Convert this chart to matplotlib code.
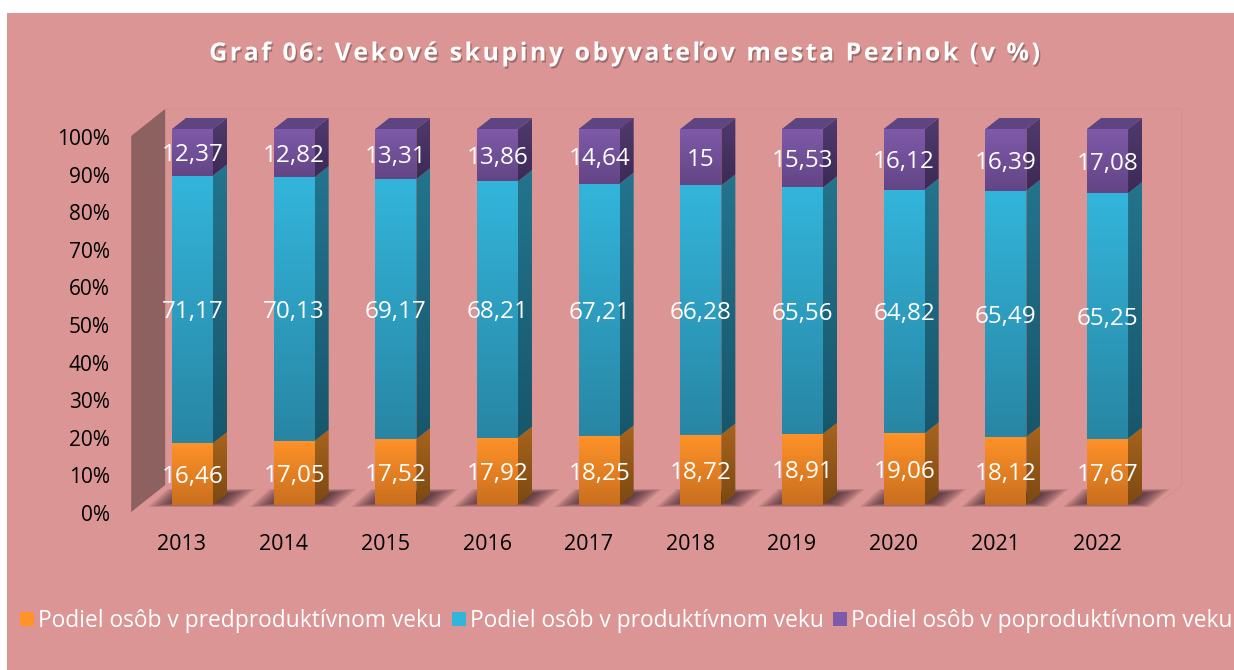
import matplotlib
matplotlib.use("Agg")
import matplotlib.pyplot as plt
import matplotlib.patheffects as pe
import numpy as np
from matplotlib.colors import to_rgb
from matplotlib.patches import Polygon, Rectangle, Patch
from matplotlib.transforms import ScaledTranslation

years = [2013, 2014, 2015, 2016, 2017, 2018, 2019, 2020, 2021, 2022]
pre_prod = [16.46, 17.05, 17.52, 17.92, 18.25, 18.72, 18.91, 19.06, 18.12, 17.67]
prod = [71.17, 70.13, 69.17, 68.21, 67.21, 66.28, 65.56, 64.82, 65.49, 65.25]
post_prod = [12.37, 12.82, 13.31, 13.86, 14.64, 15, 15.53, 16.12, 16.39, 17.08]
y_ticks = list(range(0, 101, 10))
series_names = ["Podiel osôb v predproduktívnom veku",
                "Podiel osôb v produktívnom veku",
                "Podiel osôb v poproduktívnom veku"]
title = "Graf 06: Vekové skupiny obyvateľov mesta Pezinok (v %)"

# (front top, front bottom, side top, side bottom)
orange = ("#ff9228", "#c96f1f", "#a8641c", "#7c4912")
blue = ("#33b5db", "#2886a4", "#23748e", "#17576c")
purple = ("#7f5aaa", "#634585", "#513a6e", "#3c2a56")
top_color = "#5e4480"
panel_color = "#da9594"

W, H = 1234, 670
PX_X = 101.67  # pixels per category
PX_Y = 3.76    # pixels per percent
bar_w = 41
off_x, off_y = 10.5, 7   # bars sit a little behind the tick plane
dep_x, dep_y = 14, 11    # depth of a bar
back_x, back_y = 34, 27  # depth of the whole plot box

plt.rcParams['font.family'] = ['Open Sans', 'DejaVu Sans']
fig = plt.figure(figsize=(W / 100, H / 100), dpi=100, facecolor="white")
fig.patches.append(Rectangle((7 / W, 0), 1 - 7 / W, 1 - 13 / H, transform=fig.transFigure,
                             facecolor=panel_color, edgecolor="none", zorder=-1))

left = 182 - PX_X / 2
ax = fig.add_axes([left / W, (H - 512) / H, PX_X * 10 / W, PX_Y * 100 / H])
ax.patch.set_visible(False)


def pt(x, y, ox=0, oy=0):
    # data position moved by a pixel offset
    return (x + ox / PX_X, y + oy / PX_Y)


def gradient_face(corners, c_top, c_bottom, z):
    poly = Polygon(corners, closed=True, facecolor="none", edgecolor="none", zorder=z, clip_on=False)
    ax.add_patch(poly)
    xs = [c[0] for c in corners]
    ys = [c[1] for c in corners]
    t = np.linspace(0, 1, 64)[:, None, None]
    img = (1 - t) * np.array(to_rgb(c_top))[None, None, :] + t * np.array(to_rgb(c_bottom))[None, None, :]
    im = ax.imshow(img, extent=(min(xs), max(xs), min(ys), max(ys)), origin="upper",
                   aspect="auto", zorder=z, interpolation="bilinear")
    im.set_clip_box(fig.bbox)  # bars stand higher than the axes box
    im.set_clip_path(poly)


# side wall, back frame and floor edge
ax.add_patch(Polygon([pt(-0.5, 100), pt(-0.5, 100, back_x, back_y), pt(-0.5, 0, back_x, back_y), pt(-0.5, 0)],
                     facecolor="#8c6160", edgecolor="none", zorder=1, clip_on=False))
ax.plot(*zip(pt(-0.5, 100, back_x, back_y), pt(9.5, 100, back_x, back_y), pt(9.5, 0, back_x, back_y),
             pt(9.5, 0, 15, 12)),
        color="#d48f8e", lw=0.8, zorder=1, clip_on=False)

# shadows under the bars
for i in range(len(years)):
    x0 = i + (off_x - bar_w / 2) / PX_X
    shape = np.array([[-24, -2], [-4, 16], [83, 16], [62, -2]], dtype=float)
    centre = shape.mean(axis=0)
    for k in range(12):
        shrink = 1.0 - k * 0.055
        scaled = centre + (shape - centre) * shrink
        corners = [pt(x0, 0, p[0], off_y + p[1]) for p in scaled]
        ax.add_patch(Polygon(corners, facecolor="#2e1820", edgecolor="none", alpha=0.11, zorder=1.5, clip_on=False))

# bars
z = 2
for i in range(len(years)):
    x0 = i + (off_x - bar_w / 2) / PX_X
    x1 = i + (off_x + bar_w / 2) / PX_X
    bottom = 0
    for values, colors in ((pre_prod, orange), (prod, blue), (post_prod, purple)):
        v = values[i]
        top = bottom + v
        front = [pt(x0, top, 0, off_y), pt(x1, top, 0, off_y), pt(x1, bottom, 0, off_y), pt(x0, bottom, 0, off_y)]
        side = [pt(x1, top, 0, off_y), pt(x1, top, dep_x, off_y + dep_y),
                pt(x1, bottom, dep_x, off_y + dep_y), pt(x1, bottom, 0, off_y)]
        gradient_face(side, colors[2], colors[3], z)
        gradient_face(front, colors[0], colors[1], z)
        ax.text(*pt(i, bottom + v / 2, off_x, off_y - 3), f"{v:g}".replace(".", ","), color="white",
                fontsize=17.5, ha="center", va="center", zorder=6, clip_on=False)
        bottom = top
    ax.add_patch(Polygon([pt(x0, 100, 0, off_y), pt(x0, 100, dep_x, off_y + dep_y),
                          pt(x1, 100, dep_x, off_y + dep_y), pt(x1, 100, 0, off_y)],
                         facecolor=top_color, edgecolor="none", zorder=z, clip_on=False))

ax.set_xlim(-0.5, 9.5)
ax.set_ylim(0, 100)
for s in ax.spines.values():
    s.set_visible(False)
ax.set_xticks(range(len(years)))
ax.set_xticklabels(years, fontsize=15.5, color="black")
ax.set_yticks(y_ticks)
ax.set_yticklabels([f"{t}%" for t in y_ticks], fontsize=15, color="black")
ax.tick_params(axis="x", length=0, pad=15.6)
ax.tick_params(axis="y", length=0, pad=15.3)
shift = ScaledTranslation(0, -0.7 / 72, fig.dpi_scale_trans)
for lab in ax.get_yticklabels():
    lab.set_transform(lab.get_transform() + shift)

spaced = "\u200a".join(title)
fig.text(625 / W, 1 - 54 / H, spaced, color="white", fontsize=18, fontweight="bold", ha="center", va="center",
         path_effects=[pe.withSimplePatchShadow(offset=(1, -1.5), shadow_rgbFace="#7a5050", alpha=0.6)])

handles = [Patch(facecolor=c[0], edgecolor="none") for c in (orange, blue, purple)]
fs = 16.42
px = fs / 0.72
leg = fig.legend(handles, series_names, ncol=3, loc="center left", bbox_to_anchor=(20 / W, 1 - 621 / H),
                 frameon=False, fontsize=fs, labelcolor="white", borderpad=0, borderaxespad=0,
                 handlelength=14 / px, handleheight=14 / px, handletextpad=4 / px, columnspacing=9.5 / px)

fig.savefig("out.png", dpi=100, facecolor=fig.get_facecolor())
